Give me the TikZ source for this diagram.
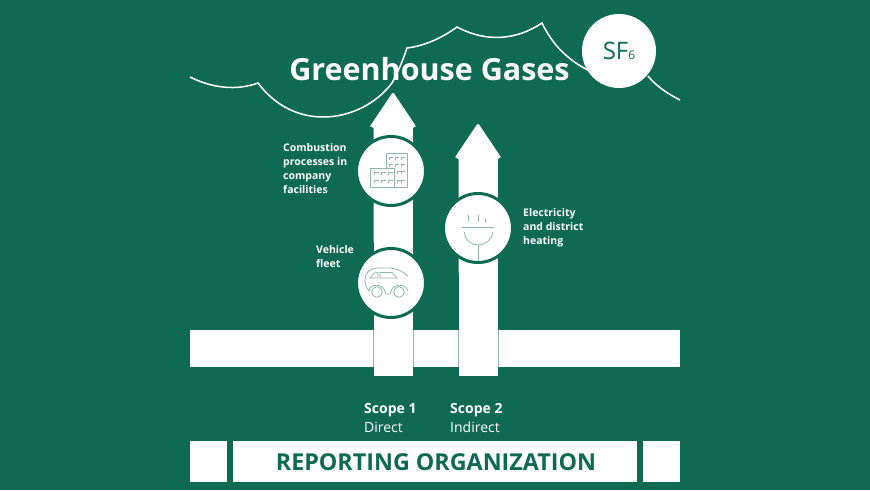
\documentclass[tikz,border=0pt]{standalone}
\usepackage{fontspec}
\setmainfont{Open Sans}
\definecolor{ghgreen}{HTML}{0E6A51}
\definecolor{ghedge}{HTML}{8FB8AB}
\tikzset{
    cloudline/.style={draw=white, line width=1.5pt},
    iconline/.style={draw=ghedge, line width=0.8pt},
    sidelabel/.style={text=white, font=\fontsize{10.5}{14}\selectfont\bfseries, align=left, anchor=north west, inner sep=0pt},
    scopelabel/.style={text=white, font=\fontsize{14}{19}\selectfont, align=left, anchor=north west, inner sep=0pt},
    sourcedisc/.style={circle, fill=white, draw=ghgreen, line width=3pt, minimum size=69pt, inner sep=0pt},
    basebox/.style={fill=white, inner sep=0pt, anchor=north west}
}
\begin{document}
\begin{tikzpicture}[x=1pt, y=-1pt]
    \useasboundingbox[fill=ghgreen] (0, 0) rectangle (870, 490);
    % cloud outline
    \draw[cloudline] (190, 77) .. controls (212, 88) and (236, 91) .. (258, 83)
        .. controls (276, 107) and (300, 117) .. (323, 117)
        .. controls (350, 117) and (376, 104) .. (392, 83)
        .. controls (398, 72) and (403, 60) .. (407, 48)
        .. controls (424, 46) and (442, 38) .. (457, 27)
        .. controls (485, 42) and (515, 41) .. (542, 23)
        .. controls (553, 46) and (570, 62) .. (592, 72);
    \draw[cloudline] (648, 76) .. controls (656, 86) and (668, 94) .. (680, 100);
    \node[circle, fill=white, minimum size=74pt, inner sep=0pt] (sfsix) at (619, 51) {};
    \node[text=ghgreen, font=\fontsize{24}{24}\selectfont, inner sep=0pt] at (sfsix) {SF\fontsize{12}{12}\selectfont 6};
    \node[text=white, font=\fontsize{30.5}{31}\selectfont\bfseries, inner sep=0pt] (title) at (429.5, 69) {Greenhouse Gases};
    % emission bar and arrows
    \fill[white] (190, 330) rectangle (680, 367);
    \foreach \x/\y in {393/93, 478/124} {
        \draw[ghedge, line width=0.8pt] (\x - 20, 330) -- (\x - 20, 367) (\x + 20, 330) -- (\x + 20, 367);
        \fill[white] (\x - 19.5, \y + 30) rectangle (\x + 19.5, 376);
        \fill[white, rounded corners=1.5pt] (\x, \y - 1) -- (\x + 23.5, \y + 34) -- (\x + 19.5, \y + 34) -- (\x + 19.5, \y + 150)
            -- (\x - 19.5, \y + 150) -- (\x - 19.5, \y + 34) -- (\x - 23.5, \y + 34) -- cycle;
    };
    % sources
    \node[sourcedisc] (plant) at (391, 171) {};
    \node[sourcedisc] (fleet) at (391, 283) {};
    \node[sourcedisc] (power) at (478, 228) {};
    % building icon
    \draw[iconline] (386, 168) -- (386, 153) -- (407, 153) -- (407, 187) -- (394, 187);
    \draw[iconline] (370, 168) rectangle (394, 187);
    \foreach \x in {374, 381, 388} {
        \foreach \y in {172, 180} {
            \draw[iconline] (\x, \y + 3) -- (\x, \y) -- (\x + 4.5, \y);
        };
    };
    \foreach \y in {157, 164} {
        \foreach \x in {389, 395, 401} {
            \draw[iconline] (\x, \y + 3) -- (\x, \y) -- (\x + 4, \y);
        };
    };
    \foreach \y in {171, 180} {
        \draw[iconline] (397, \y + 3) -- (397, \y) -- (401, \y);
        \draw[iconline] (401, \y + 3) -- (401, \y) -- (405, \y);
    };
    % car icon
    \draw[iconline] (369, 291) .. controls (365, 287) and (365, 282) .. (365, 279)
        .. controls (365, 272) and (371, 268) .. (378, 268)
        -- (388, 268) .. controls (396, 268) and (403, 271) .. (407.5, 276);
    \draw[iconline] (369, 291) .. controls (370, 283) and (384, 283) .. (385.5, 293) -- (385.5, 294) -- (390.5, 294) -- (390.5, 293)
        .. controls (392, 283) and (406, 283) .. (408, 291);
    \draw[iconline] (377, 292) circle[radius=5.3];
    \draw[iconline] (399, 292) circle[radius=5.3];
    \draw[iconline] (370, 278) -- (374, 273) -- (378, 272.5) -- (378, 278) -- cycle;
    \draw[iconline] (380, 272.5) -- (392, 272.5) -- (397, 278) -- (380, 278) -- cycle;
    % plug icon
    \draw[iconline] (462, 227) -- (494, 227);
    \draw[iconline] (468, 215) -- (468, 221);
    \draw[iconline] (478, 215) -- (478, 222);
    \draw[iconline] (485, 219) -- (485, 223);
    \draw[iconline] (464.5, 232) .. controls (464.5, 240) and (471, 245) .. (478, 245)
        .. controls (485, 245) and (492.5, 240) .. (492.5, 232);
    \draw[iconline] (478, 245) -- (478, 261);
    % labels
    \node[sidelabel] (plantlabel) at (283, 143) {Combustion\\processes in\\company\\facilities};
    \node[sidelabel] (fleetlabel) at (316, 245) {Vehicle\\fleet};
    \node[sidelabel] (powerlabel) at (523, 208) {Electricity\\and district\\heating};
    \node[scopelabel] (scopeone) at (364, 403) {\textbf{Scope 1}\\Direct};
    \node[scopelabel] (scopetwo) at (450, 403) {\textbf{Scope 2}\\Indirect};
    % reporting organization
    \node[basebox, minimum width=37pt, minimum height=41pt] (leftbox) at (190, 441) {};
    \node[basebox, minimum width=404pt, minimum height=41pt] (orgbox) at (233, 441) {};
    \node[text=ghgreen, font=\fontsize{23.3}{23}\selectfont\bfseries, inner sep=0pt] (orgtext) at (436, 462) {REPORTING ORGANIZATION};
    \node[basebox, minimum width=37pt, minimum height=41pt] (rightbox) at (643, 441) {};
\end{tikzpicture}
\end{document}
